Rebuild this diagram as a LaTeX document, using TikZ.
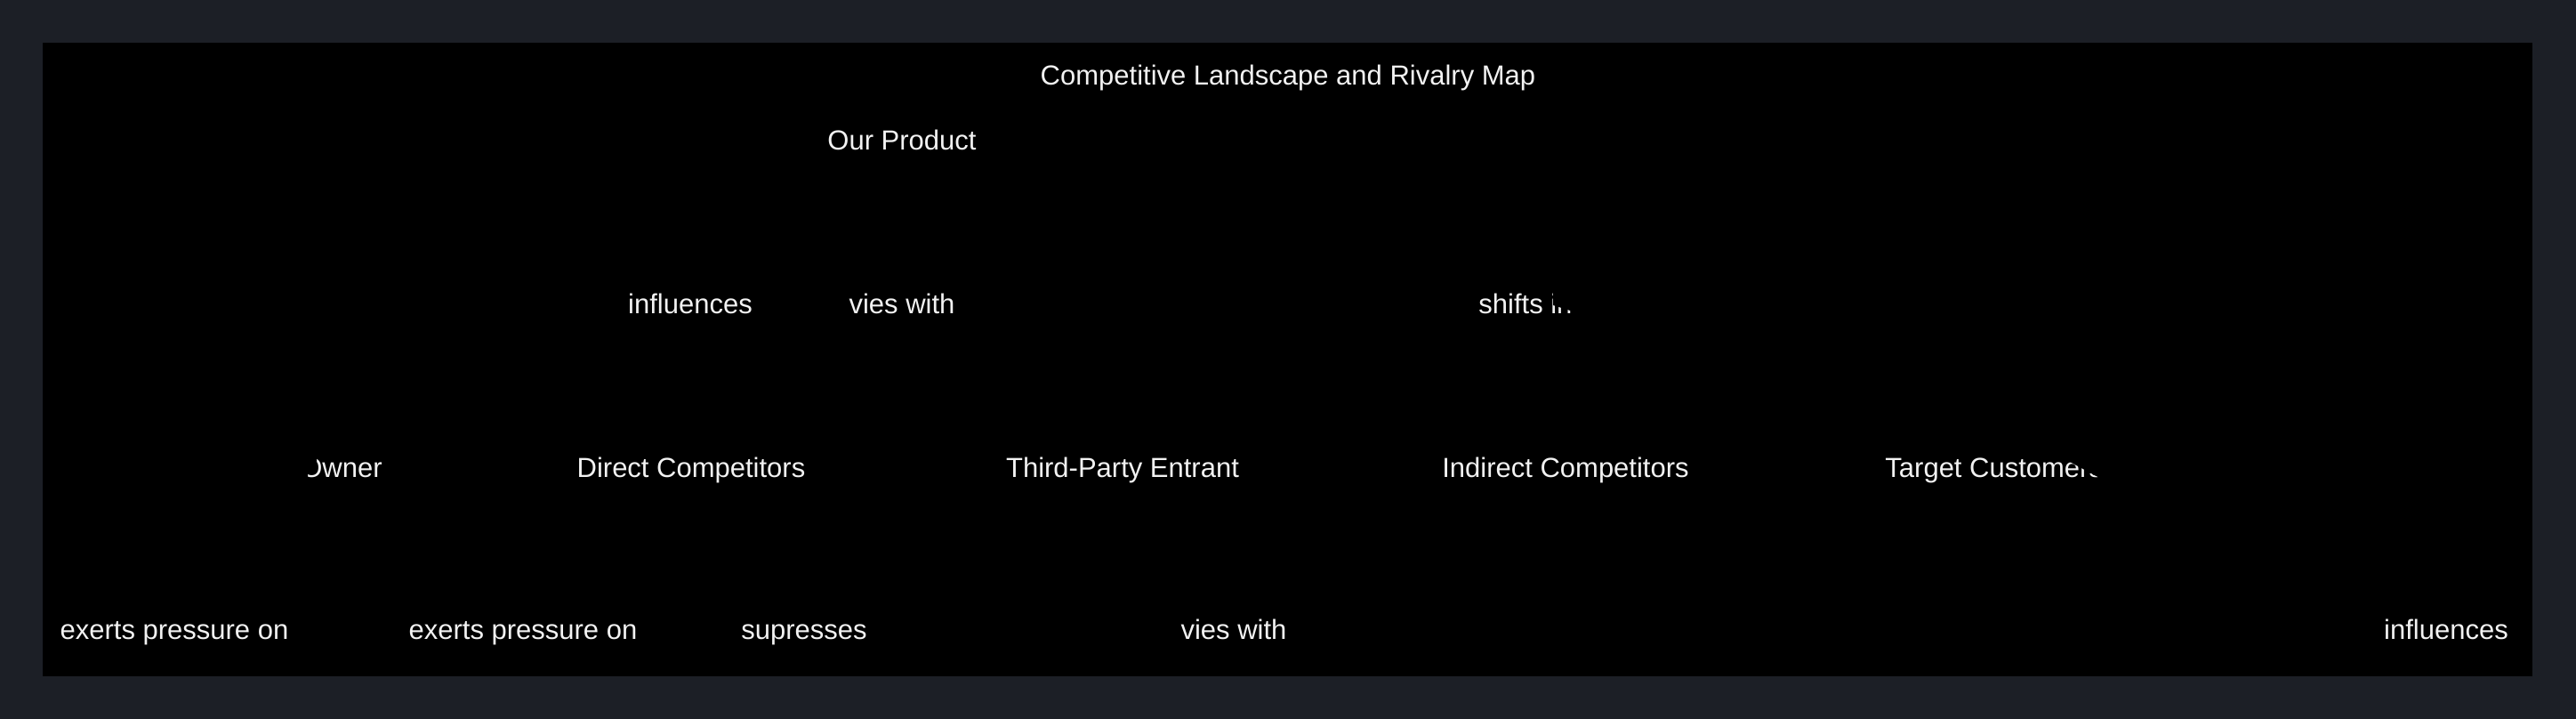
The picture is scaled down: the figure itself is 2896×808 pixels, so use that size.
\documentclass[tikz,border=0pt]{standalone}
\usepackage{fontspec}
\setmainfont{Liberation Sans}

\definecolor{pagebg}{HTML}{1C1F26}
\definecolor{labeltext}{HTML}{F2F2F2}

\begin{document}
\begin{tikzpicture}[x=0.5pt, y=-0.5pt,
    lbl/.style={text=labeltext, inner sep=0pt, anchor=base,
        font=\fontsize{15.5pt}{18pt}\selectfont},
    cover/.style={fill=black}]

        % Page and black canvas
        \fill[pagebg] (0,0) rectangle (2896,808);
        \fill[black] (48,48) rectangle (2847,760);

        % Title
        \node[lbl] (title) at (1448,96) {Competitive Landscape and Rivalry Map};

        % Top node
        \node[lbl] (product) at (1014,169) {Our Product};

        % Upper edge labels
        \node[lbl] (lblInfluences) at (776,352) {influences};
        \node[lbl] (lblViesTop) at (1014,352) {vies with};
        \node[lbl, anchor=base west] (lblShifts) at (1662,352) {shifts in};

        % Middle row of nodes
        \node[lbl, anchor=base east] (owner) at (430,536) {Owner};
        \node[lbl] (direct) at (777,536) {Direct Competitors};
        \node[lbl] (entrant) at (1262,536) {Third-Party Entrant};
        \node[lbl] (indirect) at (1760,536) {Indirect Competitors};
        \node[lbl, anchor=base west] (customers) at (2119,536) {Target Customers};

        % Lower edge labels
        \node[lbl] (lblPressA) at (196,718) {exerts pressure on};
        \node[lbl] (lblPressB) at (588,718) {exerts pressure on};
        \node[lbl] (lblSuppress) at (904,718) {supresses};
        \node[lbl] (lblViesLow) at (1387,718) {vies with};
        \node[lbl] (lblInfluencesLow) at (2750,718) {influences};

        % Black shapes that hide parts of some labels
        \fill[cover] (300,495) -- (356,495) -- (356,525) -- (346,525) -- (346,552) -- (300,552) -- cycle;
        \fill[cover] (1746,300) -- (1820,300) -- (1820,362) -- (1778,353) -- (1746,343) -- cycle;
        \fill[cover] (2314,495) -- (2420,495) -- (2420,552) -- (2364,539) -- (2314,512) -- cycle;

    \end{tikzpicture}
\end{document}
